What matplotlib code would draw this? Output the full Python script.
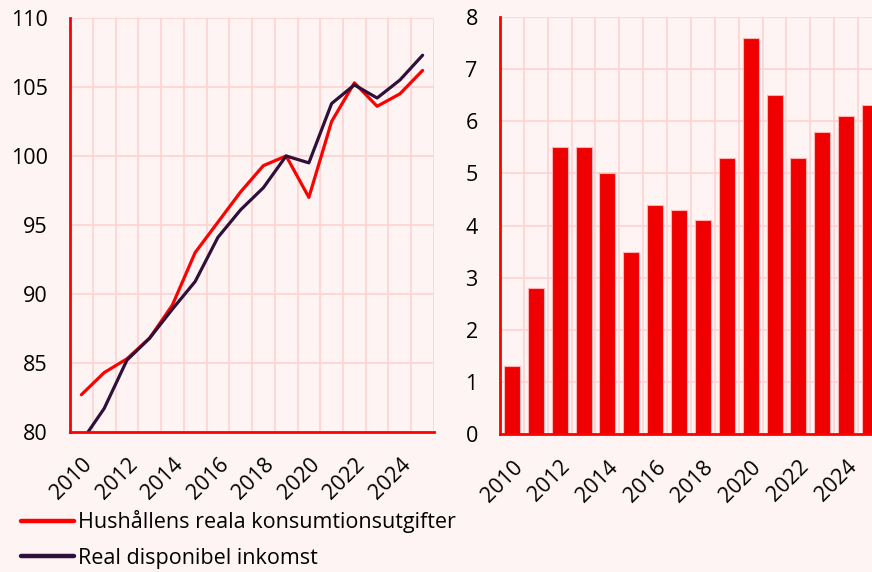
import numpy as np
import matplotlib
matplotlib.use("Agg")
import matplotlib.pyplot as plt

years = list(range(2010, 2026))
tick_labels = [str(y) if y % 2 == 0 else "" for y in years]

# index, 2019 = 100
konsumtion = [82.7, 84.3, 85.3, 86.8, 89.2, 93.0, 95.2, 97.4, 99.3, 100.0,
              97.0, 102.5, 105.3, 103.6, 104.5, 106.2]
inkomst = [79.3, 81.7, 85.2, 86.8, 88.9, 90.9, 94.1, 96.1, 97.7, 100.0,
           99.5, 103.8, 105.15, 104.2, 105.5, 107.3]

# percent
sparkvot = [1.3, 2.8, 5.5, 5.5, 5.0, 3.5, 4.4, 4.3, 4.1, 5.3,
            7.6, 6.5, 5.3, 5.8, 6.1, 6.3]

bg = "#fff4f4"
grid_col = "#ffd2d2"
red = "#ff0000"
bar_red = "#ee0000"
purple = "#2e1038"

plt.rcParams['font.family'] = ['Open Sans', 'DejaVu Sans']
plt.rcParams['font.size'] = 15.5

fig = plt.figure(figsize=(8.72, 5.72), dpi=100, facecolor=bg)
ax1 = fig.add_axes([0.0803, 0.2448, 0.4174, 0.7238], facecolor=bg)
ax2 = fig.add_axes([0.5734, 0.2407, 0.438, 0.7301], facecolor=bg)

x = np.arange(len(years))

ax1.plot(x, konsumtion, color=red, lw=2.3, label="Hushållens reala konsumtionsutgifter",
         solid_capstyle='round', zorder=3)
ax1.plot(x, inkomst, color=purple, lw=2.3, label="Real disponibel inkomst",
         solid_capstyle='round', zorder=3)
ax1.set_ylim(80, 110)
ax1.set_yticks([80, 85, 90, 95, 100, 105, 110])

ax2.bar(x, sparkvot, width=0.67, color=bar_red, edgecolor="#ffb0b0", linewidth=0.8, zorder=3)
ax2.set_ylim(0, 8)
ax2.set_yticks(range(0, 9))

for ax in (ax1, ax2):
    ax.set_xlim(-0.5, len(years) - 0.5)
    ax.set_xticks(x)
    ax.set_xticklabels(tick_labels, rotation=45, ha='right', va='top',
                       rotation_mode='anchor')
    ax.set_xticks(np.arange(-0.5, len(years)), minor=True)
    ax.grid(True, which='minor', axis='x', color=grid_col, lw=1.2, zorder=0)
    ax.grid(True, which='major', axis='y', color=grid_col, lw=1.2, zorder=0)
    ax.tick_params(axis='both', which='both', length=0)
    ax.tick_params(axis='x', pad=16, labelsize=15.5)
    ax.tick_params(axis='y', pad=16, labelsize=15.5)
    for s in ('top', 'right'):
        ax.spines[s].set_visible(False)
    for s in ('left', 'bottom'):
        ax.spines[s].set_color(red)
        ax.spines[s].set_linewidth(2)
        ax.spines[s].set_zorder(4)

leg = fig.legend(handles=ax1.get_lines(), loc='upper left',
                 bbox_to_anchor=(0.024, 0.108), frameon=False, fontsize=15.5,
                 handlelength=2.45, handletextpad=0.22, labelspacing=0.68,
                 borderpad=0, borderaxespad=0)
for h in leg.legend_handles:
    h.set_linewidth(3.2)

fig.savefig("out.png", dpi=100, facecolor=bg)
